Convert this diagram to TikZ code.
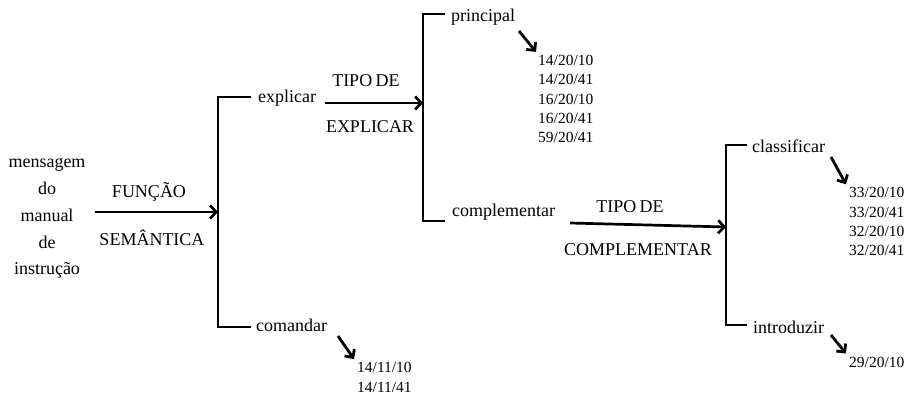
\documentclass[tikz,border=0pt]{standalone}
\usepackage{fontspec}
\setmainfont{Liberation Serif}
\usetikzlibrary{arrows.meta}
\begin{document}
\begin{tikzpicture}[x=1pt,y=-1pt,
  wrd/.style={inner sep=0pt, font=\fontsize{18}{21}\selectfont},
  nums/.style={inner sep=0pt, align=left, font=\fontsize{15.5}{19.4}\selectfont},
  brk/.style={line width=2.7pt},
  arr/.style={line width=2.7pt, -{Straight Barb[length=6pt,width=13pt]}},
  sarr/.style={line width=2.8pt, -{Straight Barb[length=6pt,width=12pt]}}]
\useasboundingbox (0,0) rectangle (907,395);
% root
\node[wrd, align=center, anchor=base, font=\fontsize{18}{26.8}\selectfont] (msg) at (47,275)
  {mensagem\\do\\manual\\de\\instrução};
\coordinate (a1) at (95,212);
\coordinate (s1) at (218,212);
\draw[arr] (a1) -- (s1);
\node[wrd, anchor=base] (fun) at (149,198) {FUNÇÃO};
\node[wrd, anchor=base] (sem) at (152,246) {SEMÂNTICA};
% level 1
\node[wrd, anchor=base west] (expl) at (258,103) {explicar};
\node[wrd, anchor=base west] (coman) at (256,331) {comandar};
\coordinate (e1) at (251,97);
\coordinate (c1) at (251,327);
\draw[brk] (e1) -| (s1) |- (c1);
% explicar branch
\coordinate (a2) at (325,103);
\coordinate (s2) at (423,103);
\draw[arr] (a2) -- (s2);
\node[wrd, anchor=base] (tipo1) at (366,87) {TIPO\kern-1pt{} DE};
\node[wrd, anchor=base] (expl2) at (370,133) {EXPLICAR};
\node[wrd, anchor=base west] (princ) at (451,22) {principal};
\node[wrd, anchor=base west] (compl) at (452,217) {complementar};
\coordinate (p1) at (445,14);
\coordinate (q1) at (445,221);
\draw[brk] (p1) -| (s2) |- (q1);
\node[nums, anchor=base west] (n1) at (538,143)
  {14/20/10\\14/20/41\\16/20/10\\16/20/41\\59/20/41};
\coordinate (pa) at (519,31);
\draw[sarr] (pa) -- ([xshift=-2pt,yshift=3pt]n1.north west);
% comandar numbers
\node[nums, anchor=base west] (n2) at (357,392) {14/11/10\\14/11/41};
\coordinate (ca) at (338,336);
\draw[sarr] (ca) -- ([xshift=-3pt,yshift=3pt]n2.north west);
% complementar branch
\coordinate (a3) at (570,223);
\coordinate (s3) at (726,227);
\draw[arr] (a3) -- (s3);
\node[wrd, anchor=base] (tipo2) at (630,213) {TIPO\kern-1pt{} DE};
\node[wrd, anchor=base] (compl2) at (638,255) {COMPLEMENTAR};
\node[wrd, anchor=base west] (class) at (752,153) {classificar};
\node[wrd, anchor=base west] (intro) at (753,333) {introduzir};
\coordinate (k1) at (747,145);
\coordinate (i1) at (747,325);
\draw[brk] (k1) -| (s3) |- (i1);
\node[nums, anchor=base west] (n3) at (849,256)
  {33/20/10\\33/20/41\\32/20/10\\32/20/41};
\coordinate (ka) at (831,157);
\draw[sarr] (ka) -- ([xshift=-3pt,yshift=3pt]n3.north west);
\node[nums, anchor=base west] (n4) at (849,367) {29/20/10};
\coordinate (ia) at (831,335);
\draw[sarr] (ia) -- ([xshift=-3pt,yshift=3pt]n4.north west);
\end{tikzpicture}
\end{document}
